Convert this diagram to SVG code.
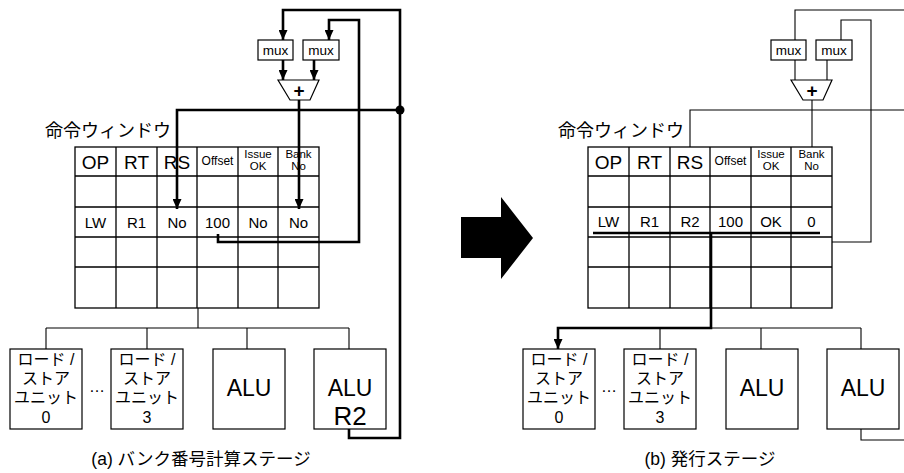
<svg xmlns="http://www.w3.org/2000/svg" width="904" height="473" viewBox="0 0 904 473">
<defs>
<marker id="ah" markerUnits="userSpaceOnUse" markerWidth="10" markerHeight="9" refX="10" refY="4.5" orient="auto"><path d="M0,0 L10,4.5 L0,9 z" fill="#000"/></marker>
<style>
.t{font-family:"Liberation Sans","Noto Sans CJK JP",sans-serif;fill:#000;text-anchor:middle}
.j{font-family:"Liberation Sans","Noto Sans CJK JP",sans-serif;fill:#000}
.box{fill:#fff;stroke:#000;stroke-width:1.2}
.grid{fill:none;stroke:#000;stroke-width:1.3}
.thin{fill:none;stroke:#000;stroke-width:1.1}
.thick{fill:none;stroke:#000;stroke-width:2.6}
.h{font-size:19px}.s{font-size:12px}.xs{font-size:11.5px}.r{font-size:15px}.u{font-size:16px}.a{font-size:23px}.m{font-size:13.5px}.p{font-size:19px;font-weight:bold}
.ttl{font-size:18px}.cap{font-size:17.5px}
</style>
</defs>
<rect width="904" height="473" fill="#fff"/>

<!-- ===== Left panel (a) ===== -->
<g id="adder-a"><polygon points="278,80 319,80 310,100 290,100" class="box"/><text x="299" y="97" class="t p">+</text></g>
<g id="mux1-a"><rect x="258" y="40" width="35" height="20" class="box"/><text x="275.5" y="55" class="t m">mux</text></g>
<g id="mux2-a"><rect x="303" y="40" width="36" height="20" class="box"/><text x="321" y="55" class="t m">mux</text></g>

<g id="window-a">
<text x="45" y="137" class="j ttl">命令ウィンドウ</text>
<rect x="75" y="147" width="244" height="161" class="grid"/>
<path class="grid" d="M75,176H319M75,207H319M75,237H319M75,267H319M116,147V308M157,147V308M197,147V308M238,147V308M278,147V308"/>
<text x="95.5" y="168.5" class="t h">OP</text><text x="136.5" y="168.5" class="t h">RT</text><text x="177" y="168.5" class="t h">RS</text>
<text x="217.5" y="165" class="t s">Offset</text>
<text x="258" y="158" class="t xs">Issue</text><text x="258" y="169.5" class="t xs">OK</text>
<text x="298.5" y="158" class="t xs">Bank</text><text x="298.5" y="169.5" class="t xs">No</text>
<text x="95.5" y="227.5" class="t r">LW</text><text x="136.5" y="227.5" class="t r">R1</text><text x="177" y="227.5" class="t r">No</text>
<text x="217.5" y="227.5" class="t r">100</text><text x="258" y="227.5" class="t r">No</text><text x="298.5" y="227.5" class="t r">No</text>
</g>

<g id="ls0-a"><rect x="10" y="349" width="72" height="80" class="box"/>
<text x="46" y="365" class="t u">ロード /</text><text x="46" y="384" class="t u">ストア</text><text x="46" y="403" class="t u">ユニット</text><text x="46" y="423" class="t u">0</text></g>
<text x="97" y="392" class="t u">…</text>
<g id="ls3-a"><rect x="111" y="349" width="72" height="80" class="box"/>
<text x="147" y="365" class="t u">ロード /</text><text x="147" y="384" class="t u">ストア</text><text x="147" y="403" class="t u">ユニット</text><text x="147" y="423" class="t u">3</text></g>
<g id="alu1-a"><rect x="213" y="349" width="72" height="80" class="box"/><text x="249" y="396" class="t a">ALU</text></g>
<g id="alu2-a"><rect x="314" y="349" width="72" height="80" class="box"/><text x="350" y="396" class="t a">ALU</text><text x="350" y="425" class="t" style="font-size:26px">R2</text></g>

<text x="201" y="465" class="t cap">(a) バンク番号計算ステージ</text>

<!-- ===== Arrow ===== -->
<polygon id="stage-arrow" points="461,217 501,217 501,197 533,238 501,279 501,258 461,258" fill="#000"/>

<!-- ===== Right panel (b) ===== -->
<g id="adder-b"><polygon points="791,80 832,80 823,100 803,100" class="box"/><text x="812" y="97" class="t p">+</text></g>
<g id="mux1-b"><rect x="771" y="40" width="35" height="20" class="box"/><text x="788.5" y="55" class="t m">mux</text></g>
<g id="mux2-b"><rect x="816" y="40" width="36" height="20" class="box"/><text x="834" y="55" class="t m">mux</text></g>

<g id="window-b">
<text x="558" y="137" class="j ttl">命令ウィンドウ</text>
<rect x="588" y="147" width="244" height="161" class="grid"/>
<path class="grid" d="M588,176H832M588,207H832M588,237H832M588,267H832M629,147V308M670,147V308M710,147V308M751,147V308M791,147V308"/>
<text x="608.5" y="168.5" class="t h">OP</text><text x="649.5" y="168.5" class="t h">RT</text><text x="690" y="168.5" class="t h">RS</text>
<text x="730.5" y="165" class="t s">Offset</text>
<text x="771" y="158" class="t xs">Issue</text><text x="771" y="169.5" class="t xs">OK</text>
<text x="811.5" y="158" class="t xs">Bank</text><text x="811.5" y="169.5" class="t xs">No</text>
<text x="608.5" y="226.5" class="t r">LW</text><text x="649.5" y="226.5" class="t r">R1</text><text x="690" y="226.5" class="t r">R2</text>
<text x="730.5" y="226.5" class="t r">100</text><text x="771" y="226.5" class="t r">OK</text><text x="811.5" y="226.5" class="t r">0</text>
</g>

<g id="ls0-b"><rect x="523" y="349" width="72" height="80" class="box"/>
<text x="559" y="365" class="t u">ロード /</text><text x="559" y="384" class="t u">ストア</text><text x="559" y="403" class="t u">ユニット</text><text x="559" y="423" class="t u">0</text></g>
<text x="609" y="392" class="t u">…</text>
<g id="ls3-b"><rect x="624" y="349" width="72" height="80" class="box"/>
<text x="660" y="365" class="t u">ロード /</text><text x="660" y="384" class="t u">ストア</text><text x="660" y="403" class="t u">ユニット</text><text x="660" y="423" class="t u">3</text></g>
<g id="alu1-b"><rect x="726" y="349" width="72" height="80" class="box"/><text x="762" y="396" class="t a">ALU</text></g>
<g id="alu2-b"><rect x="827" y="349" width="72" height="80" class="box"/><text x="863" y="396" class="t a">ALU</text></g>

<text x="710" y="465" class="t cap">(b) 発行ステージ</text>

<!-- ===== Connectors ===== -->
<g id="connectors">
<!-- left -->
<path class="thin" d="M198,308V328M46,328H349M46,328V349M147,328V349M247,328V349M349,328V349"/>
<path class="thick" d="M349,429V438H400V10H283V40" marker-end="url(#ah)"/>
<path class="thick" d="M218,234V242H359V20H329V40" marker-end="url(#ah)"/>
<path class="thick" d="M400,110H177V209" marker-end="url(#ah)"/>
<path class="thick" d="M299,100V209" marker-end="url(#ah)"/>
<path class="thick" d="M283,60V80" marker-end="url(#ah)"/>
<path class="thick" d="M314,60V80" marker-end="url(#ah)"/>
<circle cx="400" cy="110" r="4.5" fill="#000"/>
<!-- right -->
<path class="thin" d="M795,40V10H904M841,40V20H871V242H832M795,60V80M827,60V80M812,100V147M690,147V110H904M861,429V440H904"/>
<path class="thin" d="M711,328H861M660,328V349M761,328V349M861,328V349"/>
<path class="thick" d="M593,233H820"/>
<path class="thick" d="M711,233V328H558V349" marker-end="url(#ah)"/>
</g>
</svg>
